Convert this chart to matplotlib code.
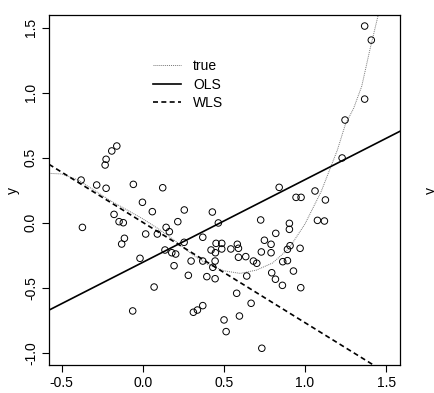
import matplotlib
matplotlib.use("Agg")
import matplotlib.pyplot as plt

plt.rcParams['font.family'] = ['Liberation Sans', 'DejaVu Sans']

x_obs = [1.368, 1.409, 1.368, 1.247, 1.229, 0.841, 0.945, 0.976, 1.062, 1.126,
         1.077, 1.120, 0.429, 0.466, 0.727, 0.904, 0.904, 0.820, 0.370, 0.452,
         0.487, 0.583, 0.750, 0.791, 0.908, 0.421, 0.448, 0.487, 0.543, 0.590,
         0.590, 0.635, 0.731, 0.791, 0.892, 0.970, 0.370, 0.446, 0.682, 0.703,
         0.863, 0.892, 0.432, 0.929, 0.641, 0.795, 0.818, 0.861, 0.395, 0.446,
         0.974, 0.579, 0.668, 0.370, 0.596, 0.501, 0.514, 0.734, -0.380, -0.284,
         -0.226, -0.058, 0.123, -0.232, -0.226, -0.191, -0.160, -0.002, 0.059, 0.256,
         -0.177, -0.146, -0.120, -0.372, 0.018, 0.090, 0.144, 0.164, 0.216, -0.113,
         -0.130, 0.137, 0.179, 0.203, 0.255, -0.017, 0.193, 0.298, 0.281, 0.070,
         0.312, 0.337, -0.062]
y_obs = [1.513, 1.405, 0.951, 0.790, 0.498, 0.272, 0.195, 0.195, 0.244, 0.175,
         0.018, 0.013, 0.082, -0.002, 0.021, -0.005, -0.051, -0.082, -0.112, -0.159,
         -0.159, -0.166, -0.135, -0.166, -0.177, -0.210, -0.231, -0.202, -0.202, -0.197,
         -0.266, -0.261, -0.225, -0.231, -0.205, -0.197, -0.295, -0.295, -0.295, -0.312,
         -0.300, -0.292, -0.343, -0.372, -0.410, -0.385, -0.435, -0.482, -0.415, -0.431,
         -0.500, -0.543, -0.620, -0.638, -0.718, -0.748, -0.838, -0.966, 0.328, 0.290,
         0.265, 0.295, 0.269, 0.444, 0.488, 0.552, 0.590, 0.157, 0.085, 0.098,
         0.064, 0.008, 0.000, -0.036, -0.087, -0.087, -0.036, -0.069, 0.008, -0.120,
         -0.164, -0.210, -0.231, -0.241, -0.151, -0.274, -0.331, -0.295, -0.405, -0.495,
         -0.689, -0.672, -0.679]

# true curve, read at points along it
x_true = [-0.58, -0.5, -0.4, -0.3, -0.2, -0.1, 0.0, 0.1, 0.2, 0.3, 0.4, 0.5,
          0.6, 0.7, 0.8, 0.9, 1.0, 1.1, 1.2, 1.25, 1.3, 1.35, 1.4, 1.45, 1.47]
y_true = [0.38, 0.375, 0.33, 0.25, 0.17, 0.10, 0.03, -0.05, -0.14, -0.24, -0.32, -0.37,
          -0.39, -0.365, -0.31, -0.20, -0.01, 0.24, 0.56, 0.76, 0.88, 1.05, 1.33, 1.59, 1.70]

# fitted lines: intercept, slope
ols_coef = (-0.305, 0.636)
wls_coef = (0.003, -0.772)

fig = plt.figure(figsize=(4.34, 3.93), dpi=100)
ax = fig.add_axes([0.1129, 0.0712, 0.8088, 0.8906])

ax.scatter(x_obs, y_obs, s=22, facecolors='none', edgecolors='black', linewidths=0.7, zorder=3)
ax.plot(x_true, y_true, color='#777777', linestyle=(0, (1, 1)), linewidth=0.7, label='true')
ax.axline((0, ols_coef[0]), slope=ols_coef[1], color='black', linewidth=1.2, label='OLS')
ax.axline((0, wls_coef[0]), slope=wls_coef[1], color='black', linewidth=1.2,
          linestyle=(0, (3, 2)), label='WLS')

ax.set_xlim(-0.578, 1.586)
ax.set_ylim(-1.095, 1.598)
ax.set_xticks([-0.5, 0.0, 0.5, 1.0, 1.5])
ax.set_yticks([-1.0, -0.5, 0.0, 0.5, 1.0, 1.5])
ax.set_xticklabels(['-0.5', '0.0', '0.5', '1.0', '1.5'])
ax.set_yticklabels(['-1.0', '-0.5', '0.0', '0.5', '1.0', '1.5'], rotation=90, va='center')
ax.tick_params(direction='out', length=5, width=0.8, labelsize=10, pad=3)
for s in ax.spines.values():
    s.set_linewidth(0.9)
ax.set_ylabel('y', fontsize=10, labelpad=3)

ax.legend(loc='upper left', bbox_to_anchor=(0.262, 0.91), frameon=False, fontsize=10,
          handlelength=2.0, handletextpad=0.85, labelspacing=0.33)

# label from the neighbouring panel, cut off at the edge
fig.text(0.992, 0.515, 'y', rotation=90, fontsize=10, va='center', ha='center')

fig.savefig('out.png', dpi=100)
